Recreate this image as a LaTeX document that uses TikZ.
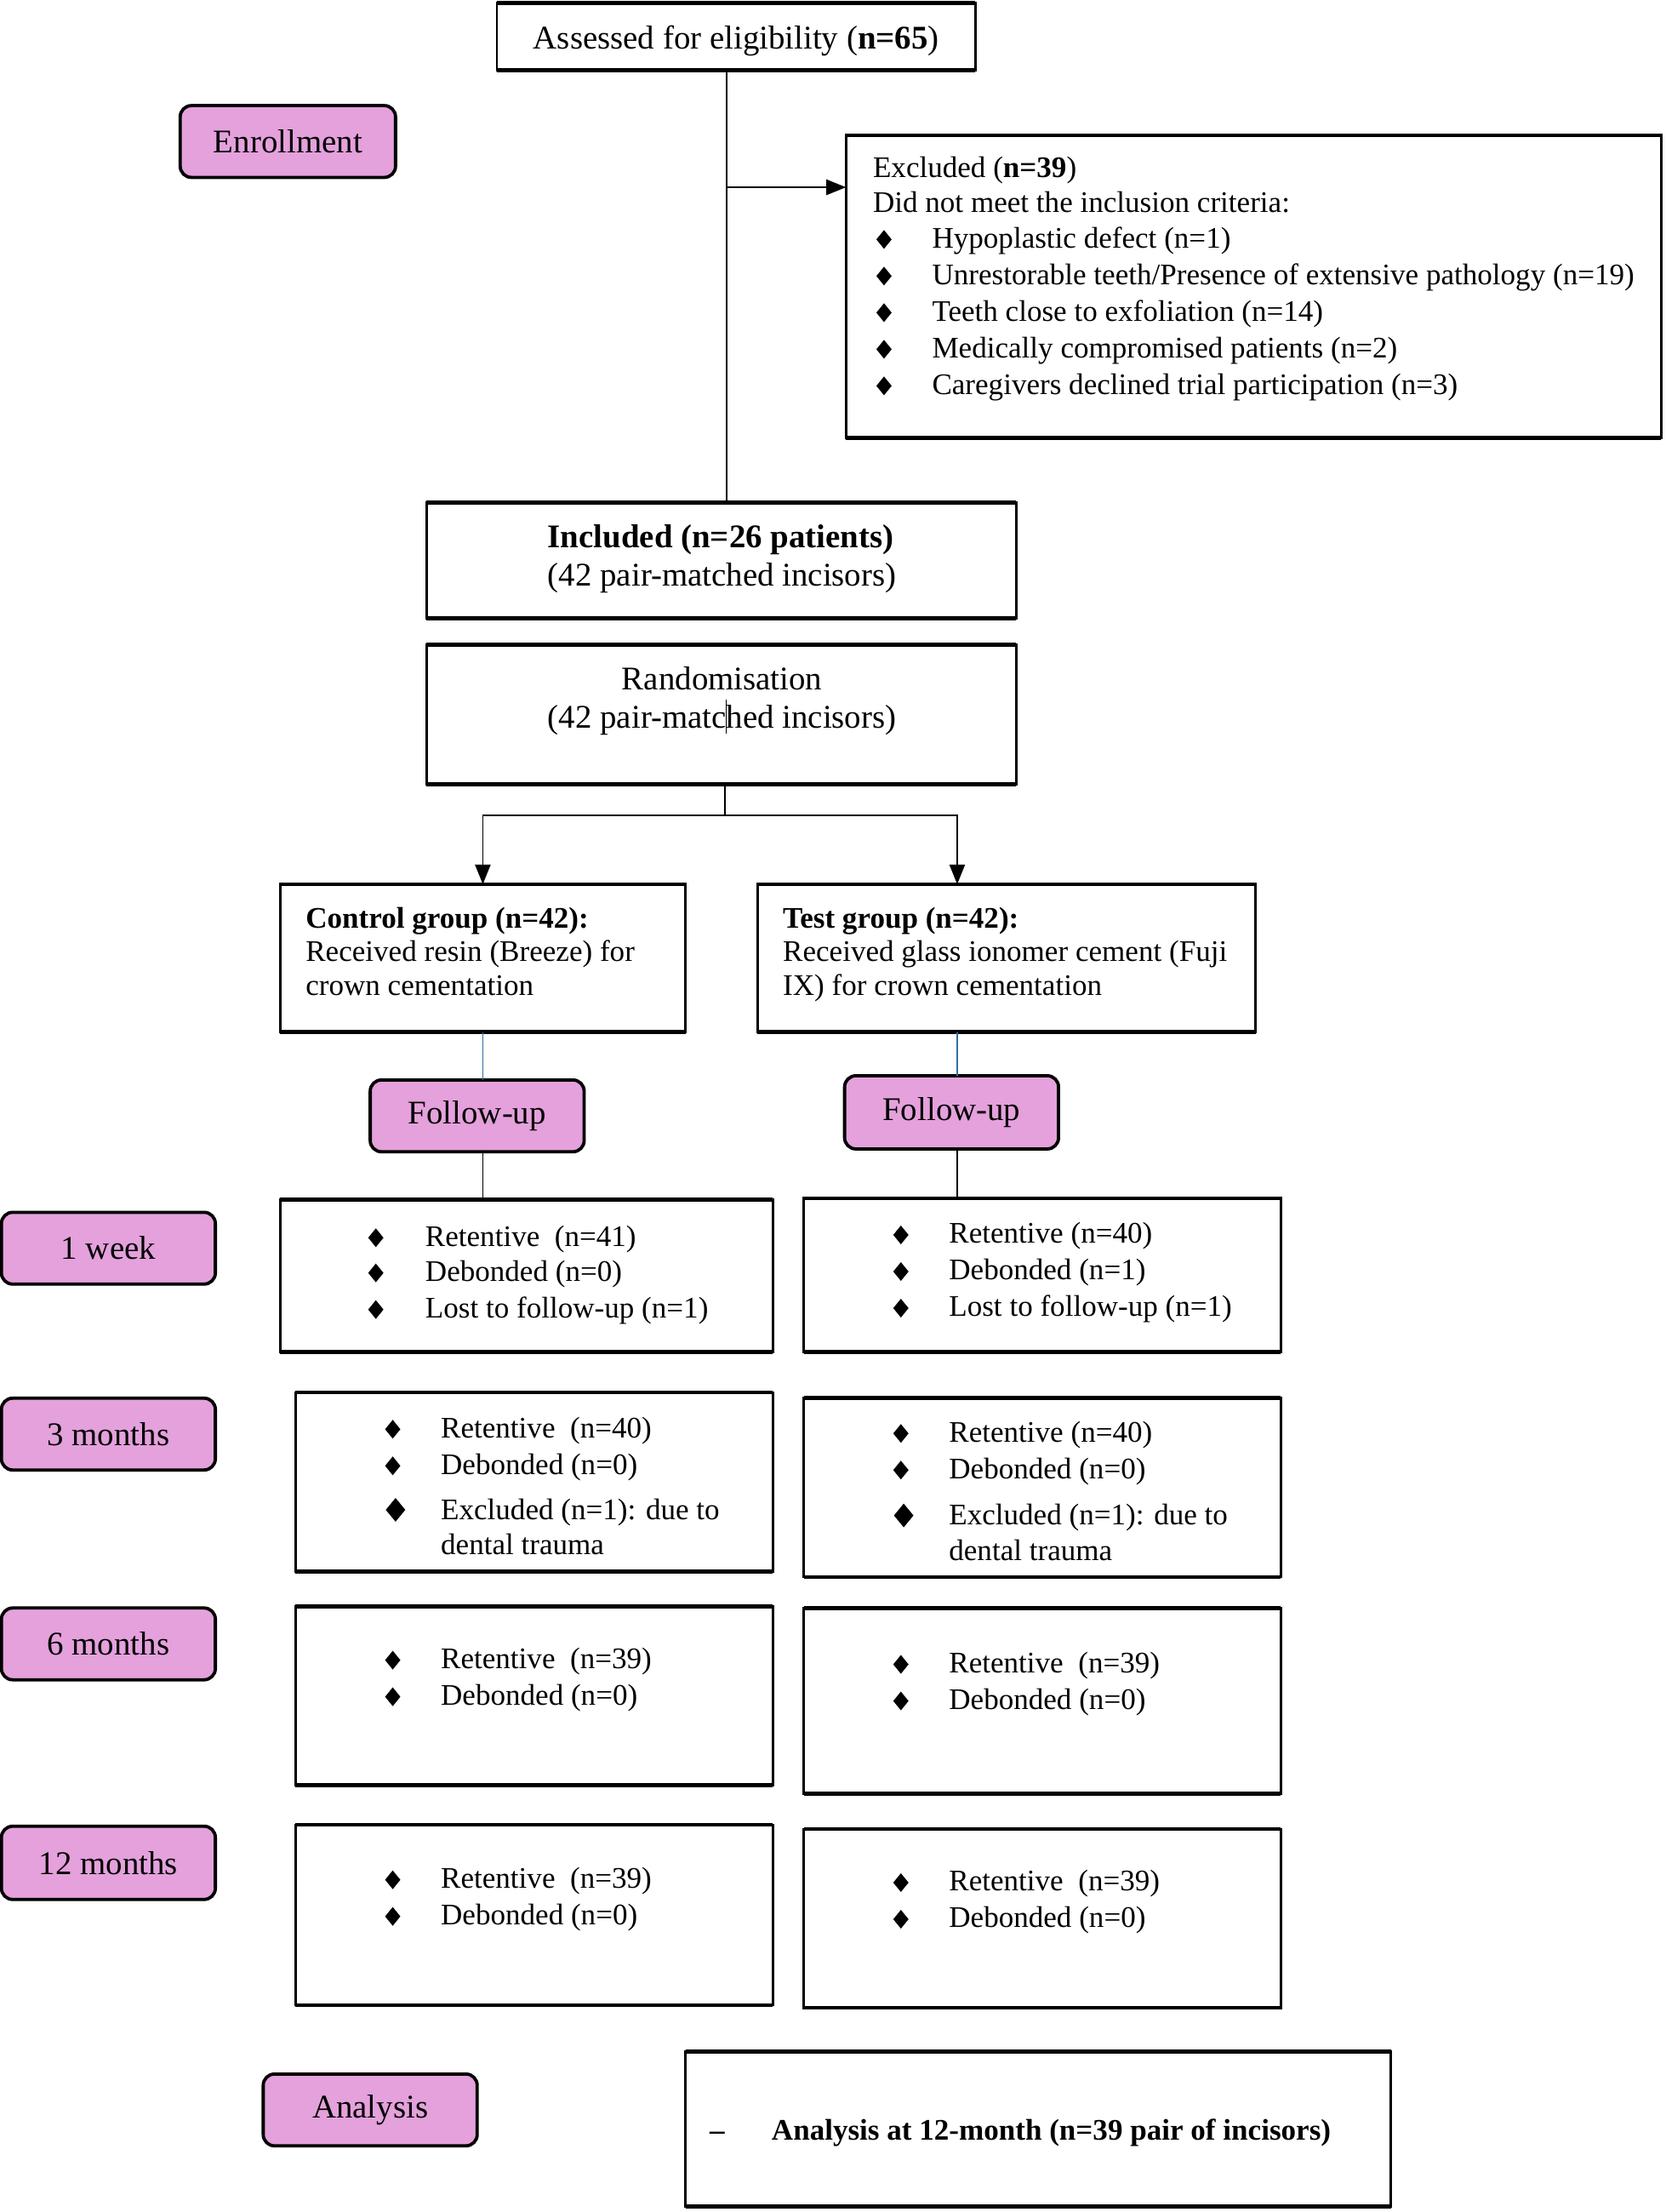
\documentclass[tikz,border=0pt]{standalone}
\usepackage{fontspec}
\setmainfont{Liberation Serif}
\usetikzlibrary{arrows.meta,calc,shapes.geometric}
\definecolor{pinkfill}{RGB}{228,161,220}
\definecolor{tealline}{RGB}{49,112,160}
\newcommand\bigf{\fontsize{23.5}{27}\selectfont}
\newcommand\smf{\fontsize{21.2}{25.5}\selectfont}
\newcounter{ln}
\newcommand\tline[2]{\stepcounter{ln}\node[txt] (ln\theln) at (#1) {#2};}
\newcommand\ctline[2]{\stepcounter{ln}\node[ctxt] (ln\theln) at (#1) {#2};}
\newcommand\bline[4]{\stepcounter{ln}\node[bul] (bu\theln) at (#1,{#3+2}) {};\node[txt] (ln\theln) at (#2,{#3+1}) {#4};}
\newcommand\Bline[4]{\stepcounter{ln}\node[bigbul] (bu\theln) at (#1,{#3+3}) {};\node[txt] (ln\theln) at (#2,{#3+1}) {#4};}
\newcommand\mkbox[5]{\node[box, minimum width={#4-#2}, minimum height={#5-#3}] (#1) at ({(#2+#4)/2},{(#3+#5)/2}) {};
  \draw[edge] (#1.north west) -- (#1.north east) (#1.south west) -- (#1.south east);}
\newcommand\mklab[6]{\node[lab, minimum width={#4-#2}, minimum height={#5-#3}] (#1) at ({(#2+#4)/2},{(#3+#5)/2}) {#6};}
\tikzset{
  box/.style={draw, line width=1.8pt, inner sep=0pt, outer sep=0pt},
  edge/.style={line width=2.8pt},
  lab/.style={draw, fill=pinkfill, line width=2.3pt, rounded corners=8pt, inner sep=0pt, outer sep=0pt, font=\bigf},
  txt/.style={anchor=base west, inner sep=0pt, font=\smf},
  ctxt/.style={anchor=base, inner sep=0pt, font=\bigf},
  bul/.style={diamond, fill=black, inner sep=0pt, minimum width=11pt, minimum height=13.5pt, anchor=south},
  bigbul/.style={diamond, fill=black, inner sep=0pt, minimum width=14pt, minimum height=17pt, anchor=south},
  conn/.style={line width=1.1pt},
  arr/.style={conn, -{Triangle[length=14pt,width=11pt]}},
}
\begin{document}
\begin{tikzpicture}[x=1pt,y=-1pt]
\useasboundingbox (0,0) rectangle (1183,1571);
% boxes
\mkbox{assess}{353}{2}{693}{50}
\mkbox{excl}{601}{96}{1180}{311}
\mkbox{incl}{303}{357}{722}{439}
\mkbox{rand}{303}{458}{722}{557}
\mkbox{ctrl}{199}{628}{487}{733}
\mkbox{test}{538}{628}{892}{733}
\mkbox{wL}{199}{852}{549}{960}
\mkbox{wR}{571}{851}{910}{960}
\mkbox{tL}{210}{989}{549}{1116}
\mkbox{tR}{571}{993}{910}{1120}
\mkbox{sL}{210}{1141}{549}{1268}
\mkbox{sR}{571}{1142}{910}{1274}
\mkbox{yL}{210}{1296}{549}{1424}
\mkbox{yR}{571}{1299}{910}{1426}
\mkbox{anbox}{487}{1457}{988}{1567}
% labels
\mklab{enr}{128}{75}{281}{126}{Enrollment}
\mklab{fuL}{263}{767}{415}{818}{Follow-up}
\mklab{fuR}{600}{764}{752}{816}{Follow-up}
\mklab{l1}{1}{861}{153}{912}{1 week}
\mklab{l3}{1}{993}{153}{1044}{3 months}
\mklab{l6}{1}{1142}{153}{1193}{6 months}
\mklab{l12}{1}{1297}{153}{1349}{12 months}
\mklab{lan}{187}{1473}{339}{1524}{Analysis}
% texts
\ctline{523,35}{Assessed for eligibility (\textbf{n=65})}
\ctline{512,389}{\textbf{Included (n=26 patients)}}
\ctline{513,416}{(42 pair-matched incisors)}
\ctline{513,490}{Randomisation}
\ctline{513,517}{(42 pair-matched incisors)}
\tline{620,126}{Excluded (\textbf{n=39})}
\tline{620,151}{Did not meet the inclusion criteria:}
\bline{628}{662}{175}{Hypoplastic defect (n=1)}
\bline{628}{662}{201}{Unrestorable teeth/Presence of extensive pathology (n=19)}
\bline{628}{662}{227}{Teeth close to exfoliation (n=14)}
\bline{628}{662}{253}{Medically compromised patients (n=2)}
\bline{628}{662}{279}{Caregivers declined trial participation (n=3)}
\tline{217,659}{\textbf{Control group (n=42):}}
\tline{217,683}{Received resin (Breeze) for}
\tline{217,707}{crown cementation}
\tline{556,659}{\textbf{Test group (n=42):}}
\tline{556,683}{Received glass ionomer cement (Fuji}
\tline{556,707}{IX) for crown cementation}
\bline{267}{302}{884}{Retentive\ \ (n=41)}
\bline{267}{302}{909}{Debonded (n=0)}
\bline{267}{302}{935}{Lost to follow-up (n=1)}
\bline{640}{674}{882}{Retentive (n=40)}
\bline{640}{674}{908}{Debonded (n=1)}
\bline{640}{674}{934}{Lost to follow-up (n=1)}
\bline{279}{313}{1020}{Retentive\ \ (n=40)}
\bline{279}{313}{1046}{Debonded (n=0)}
\Bline{281}{313}{1078}{Excluded (n=1): due to}
\tline{313,1104}{dental trauma}
\bline{640}{674}{1023}{Retentive (n=40)}
\bline{640}{674}{1049}{Debonded (n=0)}
\Bline{642}{674}{1082}{Excluded (n=1): due to}
\tline{674,1108}{dental trauma}
\bline{279}{313}{1184}{Retentive\ \ (n=39)}
\bline{279}{313}{1210}{Debonded (n=0)}
\bline{640}{674}{1187}{Retentive\ \ (n=39)}
\bline{640}{674}{1213}{Debonded (n=0)}
\bline{279}{313}{1340}{Retentive\ \ (n=39)}
\bline{279}{313}{1366}{Debonded (n=0)}
\bline{640}{674}{1342}{Retentive\ \ (n=39)}
\bline{640}{674}{1368}{Debonded (n=0)}
\tline{504,1520}{\textbf{--}}
\tline{548,1520}{\textbf{Analysis at 12-month (n=39 pair of incisors)}}
% connectors
\coordinate (trunk) at (516,133);
\draw[conn] (assess.south -| trunk) -- (incl.north -| trunk);
\draw[arr] (trunk) -- (trunk -| excl.west);
\draw[line width=0.8pt] (516,497) -- (516,521);
\coordinate (split) at (515,579);
\coordinate (tcol) at (680,0);
\draw[conn] (rand.south -| split) -- (split);
\draw[arr] (split) -| (ctrl.north);
\draw[arr] (split) -| (test.north -| tcol);
\draw[line width=0.9pt, tealline] (ctrl.south) -- (ctrl.south |- fuL.north);
\draw[line width=0.9pt, tealline] (test.south -| tcol) -- (fuR.north -| tcol);
\draw[conn] (fuL.south -| ctrl.south) -- (wL.north -| ctrl.south);
\draw[conn] (fuR.south -| tcol) -- (wR.north -| tcol);
\end{tikzpicture}
\end{document}
